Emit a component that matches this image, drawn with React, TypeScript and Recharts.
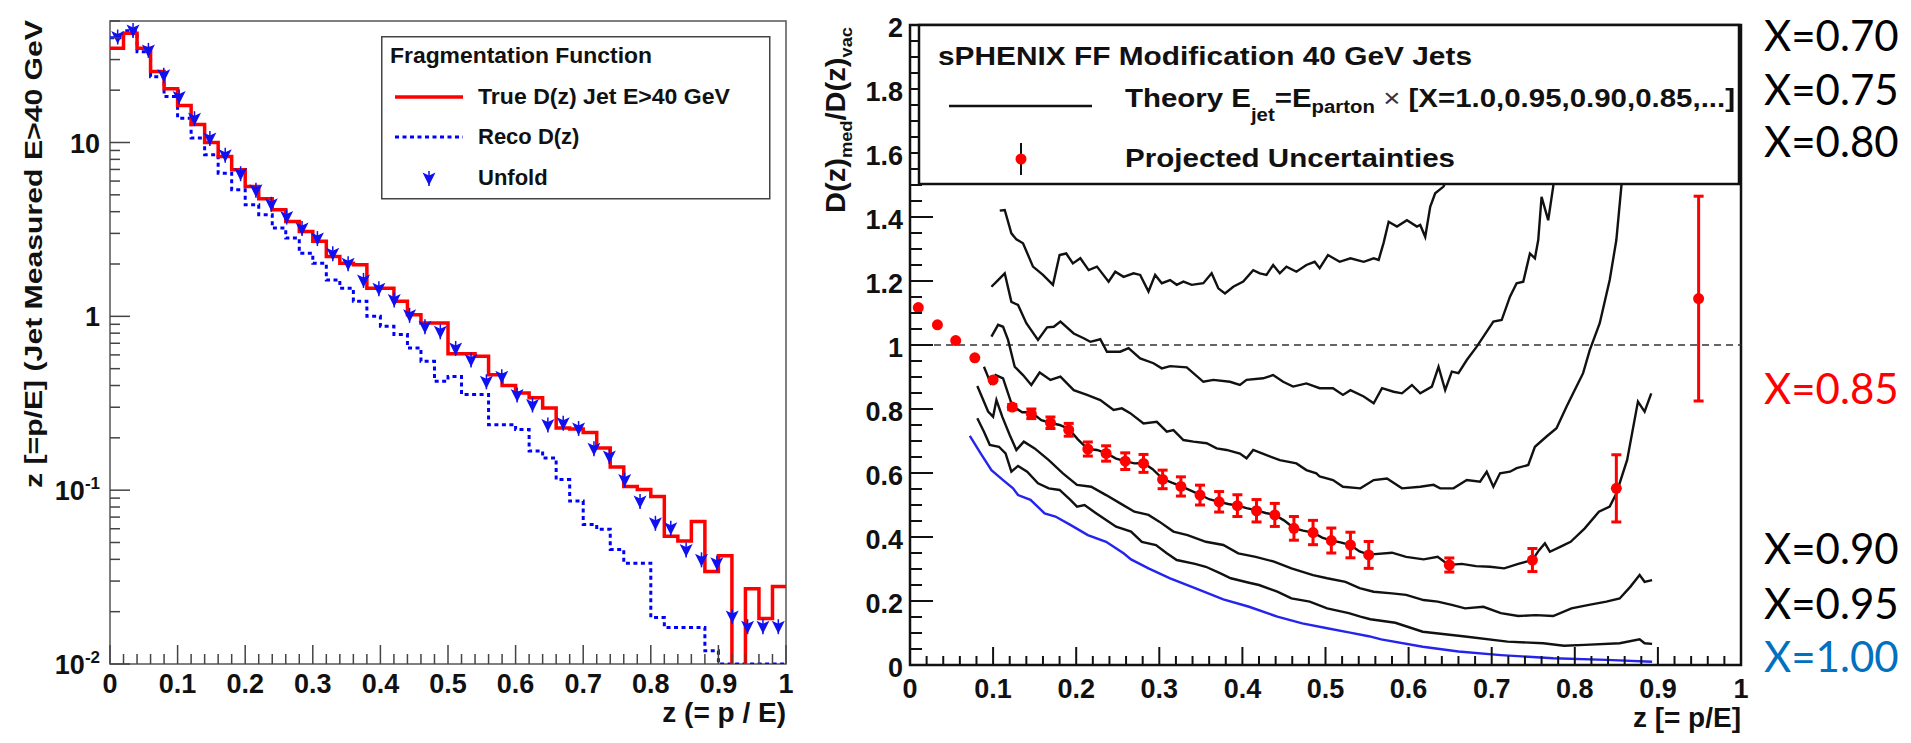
import React from "react";
import {
  ComposedChart,
  Line,
  Scatter,
  XAxis,
  YAxis,
  ReferenceLine,
  ReferenceArea,
  ErrorBar,
} from "recharts";

const FONT = "'Liberation Sans', Arial, Helvetica, sans-serif";
const SLIDE_FONT = "Lato, 'Open Sans', sans-serif";

// ---------- left panel: fragmentation function, 50 bins of 0.02 in z ----------
const trueD = [
  34.8, 42.5, 34.8, 25.6, 20.4, 16.3, 12.7, 10.0, 8.31, 6.97,
  5.59, 4.74, 4.1, 3.51, 3.08, 2.7, 2.21, 2.02, 1.98, 1.45,
  1.45, 1.22, 1.02, 0.915, 0.915, 0.61, 0.61, 0.59, 0.462, 0.4,
  0.362, 0.34, 0.297, 0.228, 0.225, 0.215, 0.175, 0.136, 0.105, 0.101,
  0.092, 0.0544, 0.051, 0.066, 0.034, 0.042, 0.001, 0.0271, 0.0183, 0.0279,
];

const recoD = [
  40, 44, 33.3, 23.9, 18.4, 13.8, 10.6, 8.5, 6.66, 5.35,
  4.38, 3.84, 3.22, 2.82, 2.31, 2.02, 1.62, 1.45, 1.22, 1.0,
  0.876, 0.785, 0.658, 0.551, 0.423, 0.45, 0.355, 0.355, 0.238, 0.238,
  0.223, 0.168, 0.153, 0.115, 0.0865, 0.0635, 0.0595, 0.0456, 0.038, 0.038,
  0.0185, 0.0162, 0.0162, 0.0162, 0.0119, 0.01, 0.01, 0.01, 0.01, 0.01,
];

// unfolded spectrum, 44 bins
const unfoldD = [
  40.7, 44.4, 34.1, 24.5, 18.4, 13.8, 10.6, 8.5, 6.66, 5.35,
  4.44, 3.75, 3.22, 2.82, 2.31, 2.02, 1.62, 1.45, 1.25, 1.02,
  0.876, 0.82, 0.658, 0.564, 0.423, 0.452, 0.355, 0.311, 0.239, 0.244,
  0.228, 0.174, 0.157, 0.115, 0.0865, 0.0649, 0.0607, 0.0456, 0.04, 0.0382,
  0.0189, 0.0165, 0.0165, 0.0165,
];

const zMajor = [0, 0.1, 0.2, 0.3, 0.4, 0.5, 0.6, 0.7, 0.8, 0.9, 1];
const zLabels = ["0", "0.1", "0.2", "0.3", "0.4", "0.5", "0.6", "0.7", "0.8", "0.9", "1"];
const logDecades = [0.01, 0.1, 1, 10];
const logTop = 50;

// ---------- right panel: D(z) medium / vacuum ----------
const projZ = [
  0.01, 0.033, 0.055, 0.078, 0.1, 0.123, 0.146, 0.169, 0.191, 0.214,
  0.236, 0.259, 0.281, 0.304, 0.326, 0.349, 0.372, 0.394, 0.417, 0.439,
  0.462, 0.485, 0.507, 0.53, 0.552, 0.649, 0.749, 0.85, 0.949,
];
const projRatio = [
  1.117, 1.063, 1.014, 0.96, 0.891, 0.806, 0.785, 0.757, 0.735, 0.675,
  0.661, 0.637, 0.63, 0.58, 0.558, 0.531, 0.51, 0.498, 0.482, 0.469,
  0.427, 0.414, 0.389, 0.375, 0.344, 0.3125, 0.328, 0.552, 1.145,
];
const projErr = [
  0, 0, 0, 0, 0, 0.008, 0.015, 0.018, 0.02, 0.022,
  0.024, 0.026, 0.028, 0.029, 0.03, 0.031, 0.032, 0.034, 0.035, 0.036,
  0.037, 0.038, 0.039, 0.04, 0.042, 0.022, 0.036, 0.105, 0.32,
];

const theory100 = [
  [0.072, 0.716], [0.085, 0.661], [0.098, 0.609], [0.112, 0.578], [0.124, 0.552],
  [0.13, 0.531], [0.145, 0.516], [0.162, 0.474], [0.175, 0.464], [0.193, 0.438],
  [0.214, 0.406], [0.236, 0.385], [0.257, 0.349], [0.266, 0.33], [0.287, 0.302],
  [0.313, 0.271], [0.343, 0.24], [0.377, 0.205], [0.408, 0.182], [0.442, 0.151],
  [0.472, 0.13], [0.502, 0.115], [0.528, 0.102], [0.552, 0.09], [0.567, 0.08],
  [0.617, 0.057], [0.66, 0.042], [0.711, 0.031], [0.774, 0.021], [0.838, 0.016],
  [0.893, 0.01],
];

const theory095 = [
  [0.081, 0.771], [0.089, 0.729], [0.096, 0.688], [0.107, 0.682], [0.115, 0.661],
  [0.122, 0.604], [0.13, 0.622], [0.141, 0.604], [0.154, 0.568], [0.167, 0.552],
  [0.18, 0.547], [0.193, 0.516], [0.201, 0.495], [0.21, 0.5], [0.223, 0.476],
  [0.236, 0.453], [0.248, 0.432], [0.266, 0.417], [0.279, 0.385], [0.296, 0.375],
  [0.309, 0.349], [0.321, 0.328], [0.343, 0.316], [0.356, 0.307], [0.373, 0.287],
  [0.386, 0.271], [0.408, 0.257], [0.42, 0.25], [0.442, 0.229], [0.459, 0.208],
  [0.481, 0.198], [0.502, 0.177], [0.528, 0.162], [0.542, 0.151], [0.554, 0.143],
  [0.584, 0.132], [0.617, 0.104], [0.668, 0.089], [0.719, 0.073], [0.762, 0.068],
  [0.787, 0.06], [0.812, 0.063], [0.854, 0.068], [0.878, 0.08], [0.884, 0.068],
  [0.893, 0.066],
];

const theory090 = [
  [0.081, 0.872], [0.094, 0.792], [0.1, 0.776], [0.104, 0.828], [0.111, 0.776],
  [0.12, 0.719], [0.128, 0.672], [0.137, 0.698], [0.15, 0.677], [0.167, 0.64],
  [0.184, 0.599], [0.201, 0.563], [0.218, 0.557], [0.236, 0.531], [0.253, 0.505],
  [0.27, 0.479], [0.287, 0.469], [0.3, 0.448], [0.317, 0.417], [0.334, 0.406],
  [0.356, 0.385], [0.377, 0.375], [0.395, 0.349], [0.416, 0.338], [0.438, 0.323],
  [0.459, 0.302], [0.485, 0.281], [0.502, 0.271], [0.524, 0.26], [0.541, 0.24],
  [0.558, 0.229], [0.58, 0.224], [0.597, 0.219], [0.618, 0.203], [0.635, 0.198],
  [0.652, 0.188], [0.668, 0.177], [0.69, 0.182], [0.711, 0.162], [0.732, 0.153],
  [0.753, 0.156], [0.774, 0.153], [0.796, 0.177], [0.817, 0.188], [0.838, 0.198],
  [0.854, 0.208], [0.867, 0.245], [0.878, 0.281], [0.884, 0.26], [0.893, 0.265],
];

const theory085 = [
  [0.089, 0.932], [0.097, 0.881], [0.103, 0.906], [0.112, 0.896], [0.123, 0.81],
  [0.135, 0.79], [0.146, 0.79], [0.158, 0.765], [0.169, 0.757], [0.18, 0.75],
  [0.191, 0.738], [0.202, 0.705], [0.214, 0.675], [0.225, 0.672], [0.236, 0.662],
  [0.248, 0.645], [0.259, 0.637], [0.27, 0.63], [0.281, 0.631], [0.292, 0.612],
  [0.304, 0.582], [0.315, 0.57], [0.326, 0.559], [0.338, 0.545], [0.349, 0.532],
  [0.36, 0.518], [0.372, 0.51], [0.383, 0.503], [0.394, 0.498], [0.405, 0.49],
  [0.417, 0.483], [0.428, 0.475], [0.439, 0.469], [0.45, 0.452], [0.462, 0.428],
  [0.473, 0.42], [0.485, 0.414], [0.496, 0.398], [0.507, 0.389], [0.518, 0.383],
  [0.53, 0.375], [0.541, 0.355], [0.552, 0.345], [0.58, 0.351], [0.597, 0.338],
  [0.618, 0.33], [0.635, 0.338], [0.643, 0.323], [0.649, 0.313], [0.664, 0.316],
  [0.681, 0.309], [0.698, 0.307], [0.715, 0.302], [0.732, 0.316], [0.749, 0.328],
  [0.757, 0.359], [0.764, 0.38], [0.77, 0.354], [0.783, 0.37], [0.795, 0.385],
  [0.812, 0.427], [0.829, 0.479], [0.842, 0.495], [0.85, 0.536], [0.863, 0.641],
  [0.876, 0.823], [0.884, 0.792], [0.892, 0.849],
];

const theory080 = [
  [0.098, 1.026], [0.106, 1.063], [0.112, 1.057], [0.118, 1.016], [0.126, 0.932],
  [0.136, 0.906], [0.146, 0.875], [0.156, 0.914], [0.169, 0.891], [0.181, 0.901],
  [0.197, 0.859], [0.213, 0.844], [0.229, 0.828], [0.245, 0.797], [0.255, 0.802],
  [0.265, 0.787], [0.281, 0.755], [0.297, 0.76], [0.309, 0.729], [0.317, 0.734],
  [0.329, 0.703], [0.341, 0.698], [0.357, 0.693], [0.369, 0.677], [0.381, 0.672],
  [0.397, 0.661], [0.405, 0.646], [0.413, 0.672], [0.429, 0.656], [0.445, 0.64],
  [0.465, 0.63], [0.477, 0.609], [0.489, 0.599], [0.493, 0.589], [0.509, 0.578],
  [0.521, 0.557], [0.542, 0.552], [0.558, 0.578], [0.574, 0.583], [0.592, 0.552],
  [0.614, 0.557], [0.63, 0.563], [0.638, 0.552], [0.654, 0.552], [0.67, 0.578],
  [0.686, 0.573], [0.694, 0.604], [0.702, 0.557], [0.71, 0.599], [0.722, 0.604],
  [0.73, 0.615], [0.744, 0.625], [0.752, 0.682], [0.766, 0.714], [0.778, 0.74],
  [0.79, 0.807], [0.798, 0.849], [0.81, 0.912], [0.818, 0.984], [0.83, 1.068],
  [0.842, 1.203], [0.85, 1.328], [0.856, 1.495], [0.862, 1.7], [0.868, 1.95],
];

const theory075 = [
  [0.098, 1.182], [0.106, 1.203], [0.114, 1.224], [0.122, 1.135], [0.13, 1.125],
  [0.14, 1.068], [0.154, 1.016], [0.165, 1.055], [0.173, 1.057], [0.181, 1.073],
  [0.197, 1.036], [0.209, 1.021], [0.217, 1.01], [0.229, 1.018], [0.237, 0.979],
  [0.253, 0.979], [0.263, 0.99], [0.277, 0.958], [0.293, 0.943], [0.303, 0.927],
  [0.313, 0.934], [0.333, 0.93], [0.353, 0.885], [0.365, 0.891], [0.385, 0.885],
  [0.397, 0.875], [0.405, 0.891], [0.425, 0.896], [0.437, 0.906], [0.449, 0.885],
  [0.461, 0.87], [0.477, 0.88], [0.493, 0.865], [0.509, 0.865], [0.521, 0.844],
  [0.53, 0.859], [0.546, 0.839], [0.558, 0.818], [0.568, 0.865], [0.582, 0.854],
  [0.592, 0.849], [0.604, 0.875], [0.614, 0.849], [0.628, 0.87], [0.636, 0.932],
  [0.644, 0.859], [0.652, 0.917], [0.66, 0.912], [0.67, 0.953], [0.682, 0.995],
  [0.69, 1.026], [0.702, 1.073], [0.712, 1.078], [0.722, 1.151], [0.73, 1.193],
  [0.738, 1.198], [0.746, 1.286], [0.752, 1.271], [0.756, 1.328], [0.76, 1.463],
  [0.768, 1.39], [0.774, 1.495], [0.782, 1.75], [0.79, 2.0],
];

const theory070 = [
  [0.108, 1.42], [0.114, 1.422], [0.122, 1.349], [0.128, 1.33], [0.136, 1.318],
  [0.148, 1.245], [0.16, 1.219], [0.172, 1.188], [0.18, 1.281], [0.188, 1.286],
  [0.196, 1.255], [0.205, 1.271], [0.215, 1.234], [0.225, 1.245], [0.239, 1.198],
  [0.247, 1.229], [0.257, 1.213], [0.269, 1.224], [0.277, 1.219], [0.287, 1.167],
  [0.295, 1.219], [0.303, 1.193], [0.313, 1.203], [0.321, 1.188], [0.329, 1.198],
  [0.339, 1.188], [0.353, 1.193], [0.363, 1.224], [0.371, 1.177], [0.379, 1.161],
  [0.389, 1.182], [0.401, 1.198], [0.413, 1.234], [0.421, 1.224], [0.429, 1.219],
  [0.437, 1.25], [0.445, 1.224], [0.453, 1.245], [0.465, 1.229], [0.477, 1.25],
  [0.487, 1.26], [0.493, 1.24], [0.503, 1.281], [0.517, 1.26], [0.53, 1.271],
  [0.546, 1.26], [0.558, 1.271], [0.564, 1.266], [0.57, 1.32], [0.576, 1.385],
  [0.586, 1.37], [0.598, 1.39], [0.61, 1.37], [0.614, 1.375], [0.62, 1.338],
  [0.626, 1.432], [0.632, 1.474], [0.642, 1.495], [0.66, 1.6], [0.68, 1.8],
];

const ratioMajor = [0, 0.2, 0.4, 0.6, 0.8, 1, 1.2, 1.4, 1.6, 1.8, 2];
const ratioLabels = ["0", "0.2", "0.4", "0.6", "0.8", "1", "1.2", "1.4", "1.6", "1.8", "2"];

const sideLabels = ["X=0.70", "X=0.75", "X=0.80", "X=0.85", "X=0.90", "X=0.95", "X=1.00"];
const sideColors = ["#000", "#000", "#000", "#ff0000", "#000", "#000", "#0070c0"];
const sideY = [51, 105, 157, 404, 564, 619, 672];

// ---------- helpers ----------
const histPoints = (vals: number[]) => [
  ...vals.map((v, i) => ({ z: i / vals.length, v })),
  { z: 1, v: vals[vals.length - 1] },
];
const pairPoints = (pairs: number[][]) => pairs.map(([z, v]) => ({ z, v }));

// minor ticks: n subdivisions of each major interval
const subdivide = (majors: number[], n: number) => {
  const out: number[] = [];
  for (let i = 0; i < majors.length - 1; i++) {
    for (let k = 0; k < n; k++) out.push(majors[i] + ((majors[i + 1] - majors[i]) * k) / n);
  }
  out.push(majors[majors.length - 1]);
  return out;
};

const logTicks = (() => {
  const out: number[] = [];
  logDecades.forEach((d) => {
    for (let m = 1; m <= 9; m++) if (d * m <= logTop) out.push(d * m);
  });
  return out;
})();

const findMajor = (majors: number[], v: number) =>
  majors.findIndex((m) => Math.abs(m - v) < 1e-6);

const trueData = histPoints(trueD);
const recoData = histPoints(recoD);
const unfoldData = unfoldD.map((v, i) => ({ z: (i + 0.5) / unfoldD.length, v }));
const projData = projZ.map((z, i) => ({ z, v: projRatio[i], err: projErr[i] }));

const theoryCurves = [
  { key: "x070", pts: pairPoints(theory070), color: "#111" },
  { key: "x075", pts: pairPoints(theory075), color: "#111" },
  { key: "x080", pts: pairPoints(theory080), color: "#111" },
  { key: "x085", pts: pairPoints(theory085), color: "#111" },
  { key: "x090", pts: pairPoints(theory090), color: "#111" },
  { key: "x095", pts: pairPoints(theory095), color: "#111" },
  { key: "x100", pts: pairPoints(theory100), color: "#2424ee" },
];

type TickProps = { x?: number; y?: number; payload?: { value: number } };

const labelStyle = {
  fontFamily: FONT,
  fontWeight: 700,
  fontSize: 27,
  fill: "#111",
} as const;

// ---------- tick renderers (ticks point into the frame) ----------
function LogTick({ x = 0, y = 0, payload }: TickProps) {
  const v = payload?.value ?? 1;
  const d = findMajor(logDecades, v);
  const exp = Math.round(Math.log10(v));
  return (
    <g>
      <line x1={x} x2={x + (d >= 0 ? 20 : 10)} y1={y} y2={y} stroke="#444" strokeWidth={1.5} />
      {d >= 0 && (
        <text x={x - 10} y={y + 10} textAnchor="end" {...labelStyle}>
          {exp >= 0 ? (
            String(10 ** exp)
          ) : (
            <>
              10
              <tspan dy={-11} fontSize={17}>
                {String(exp)}
              </tspan>
            </>
          )}
        </text>
      )}
    </g>
  );
}

function LeftZTick({ x = 0, y = 0, payload }: TickProps) {
  const idx = findMajor(zMajor, payload?.value ?? 0);
  return (
    <g>
      <line x1={x} x2={x} y1={y} y2={y - (idx >= 0 ? 19 : 10)} stroke="#444" strokeWidth={1.5} />
      {idx >= 0 && (
        <text x={x} y={y + 29} textAnchor="middle" {...labelStyle}>
          {zLabels[idx]}
        </text>
      )}
    </g>
  );
}

function RatioTick({ x = 0, y = 0, payload }: TickProps) {
  const idx = findMajor(ratioMajor, payload?.value ?? 0);
  return (
    <g>
      <line x1={x} x2={x + (idx >= 0 ? 23 : 12)} y1={y} y2={y} stroke="#111" strokeWidth={2} />
      {idx >= 0 && (
        <text x={x - 7} y={y + 12} textAnchor="end" {...labelStyle}>
          {ratioLabels[idx]}
        </text>
      )}
    </g>
  );
}

function RightZTick({ x = 0, y = 0, payload }: TickProps) {
  const idx = findMajor(zMajor, payload?.value ?? 0);
  return (
    <g>
      <line x1={x} x2={x} y1={y} y2={y - (idx >= 0 ? 18 : 9)} stroke="#111" strokeWidth={2} />
      {idx >= 0 && (
        <text x={x} y={y + 33} textAnchor="middle" {...labelStyle}>
          {zLabels[idx]}
        </text>
      )}
    </g>
  );
}

// unfolded point marker: filled downward arrowhead with a short error line
function UnfoldMarker({ cx = 0, cy = 0 }: { cx?: number; cy?: number }) {
  return (
    <g>
      <line x1={cx} x2={cx} y1={cy - 7} y2={cy + 8} stroke="#1010f0" strokeWidth={1.5} />
      <path
        d={`M${cx - 6.5},${cy - 5.5} L${cx},${cy - 2.5} L${cx + 6.5},${cy - 5.5} L${cx},${cy + 7.5} Z`}
        fill="#1010f0"
      />
    </g>
  );
}

function RedDot({ cx = 0, cy = 0 }: { cx?: number; cy?: number }) {
  return <circle cx={cx} cy={cy} r={5.5} fill="#ff0000" />;
}

function FragmentationPanel() {
  return (
    <ComposedChart width={800} height={743} margin={{ top: 21, right: 14, bottom: 78, left: 109 }}>
      <XAxis
        type="number"
        dataKey="z"
        domain={[0, 1]}
        ticks={subdivide(zMajor, 5)}
        interval={0}
        height={1}
        tickSize={0}
        tickMargin={0}
        axisLine={false}
        tickLine={false}
        tick={<LeftZTick />}
        allowDataOverflow
      />
      <YAxis
        type="number"
        scale="log"
        domain={[0.01, logTop]}
        ticks={logTicks}
        interval={0}
        width={1}
        tickSize={0}
        tickMargin={0}
        axisLine={false}
        tickLine={false}
        tick={<LogTick />}
        allowDataOverflow
      />
      <Line
        data={recoData}
        dataKey="v"
        type="stepAfter"
        stroke="#0000ff"
        strokeWidth={3}
        strokeDasharray="4 3.5"
        dot={false}
        isAnimationActive={false}
      />
      <Line
        data={trueData}
        dataKey="v"
        type="stepAfter"
        stroke="#ff0000"
        strokeWidth={3.5}
        dot={false}
        isAnimationActive={false}
      />
      <Scatter data={unfoldData} dataKey="v" shape={<UnfoldMarker />} isAnimationActive={false} />
      <ReferenceArea x1={0} x2={1} y1={0.01} y2={logTop} fill="none" stroke="#555" strokeWidth={1.5} />
    </ComposedChart>
  );
}

function RatioPanel() {
  return (
    <ComposedChart width={1000} height={743} margin={{ top: 25, right: 59, bottom: 77, left: 109 }}>
      <XAxis
        type="number"
        dataKey="z"
        domain={[0, 1]}
        ticks={subdivide(zMajor, 5)}
        interval={0}
        height={1}
        tickSize={0}
        tickMargin={0}
        axisLine={false}
        tickLine={false}
        tick={<RightZTick />}
        allowDataOverflow
      />
      <YAxis
        type="number"
        domain={[0, 2]}
        ticks={subdivide(ratioMajor, 4)}
        interval={0}
        width={1}
        tickSize={0}
        tickMargin={0}
        axisLine={false}
        tickLine={false}
        tick={<RatioTick />}
        allowDataOverflow
      />
      <ReferenceLine y={1} stroke="#333" strokeWidth={1.5} strokeDasharray="7 5" />
      {theoryCurves.map((c) => (
        <Line
          key={c.key}
          data={c.pts}
          dataKey="v"
          type="linear"
          stroke={c.color}
          strokeWidth={2.4}
          dot={false}
          isAnimationActive={false}
        />
      ))}
      <Scatter data={projData} dataKey="v" shape={<RedDot />} isAnimationActive={false}>
        <ErrorBar dataKey="err" direction="y" width={5} stroke="#ff0000" strokeWidth={3} />
      </Scatter>
      <ReferenceArea x1={0} x2={1} y1={0} y2={2} fill="none" stroke="#111" strokeWidth={2.5} />
    </ComposedChart>
  );
}

// titles, legends and the slide annotations drawn on top of both panels
function Annotations() {
  return (
    <svg
      width={1911}
      height={743}
      style={{ position: "absolute", left: 0, top: 0, pointerEvents: "none" }}
    >
      {/* axis titles */}
      <text
        transform="translate(42,20) rotate(-90)"
        textAnchor="end"
        {...labelStyle}
        fontSize={24}
        textLength={468}
        lengthAdjust="spacingAndGlyphs"
      >
        z [=p/E] (Jet Measured E&gt;40 GeV
      </text>
      <text x={786} y={722} textAnchor="end" {...labelStyle} fontSize={28}>
        z (= p / E)
      </text>
      <text
        transform="translate(845,27) rotate(-90)"
        textAnchor="end"
        {...labelStyle}
        fontSize={27}
        textLength={186}
        lengthAdjust="spacingAndGlyphs"
      >
        D(z)
        <tspan dy={7} fontSize={17}>med</tspan>
        <tspan dy={-7}>/D(z)</tspan>
        <tspan dy={7} fontSize={17}>vac</tspan>
      </text>
      <text x={1741} y={727} textAnchor="end" {...labelStyle} fontSize={28}>
        z [= p/E]
      </text>

      {/* left legend */}
      <g transform="translate(381,36)">
        <rect x={0.75} y={0.75} width={388} height={162} fill="#fff" stroke="#444" strokeWidth={1.5} />
        <text x={9} y={27} {...labelStyle} fontSize={22} textLength={262} lengthAdjust="spacingAndGlyphs">
          Fragmentation Function
        </text>
        <line x1={14} x2={82} y1={61} y2={61} stroke="#ff0000" strokeWidth={3.5} />
        <text x={97} y={68} {...labelStyle} fontSize={22} textLength={252} lengthAdjust="spacingAndGlyphs">
          True D(z) Jet E&gt;40 GeV
        </text>
        <line x1={14} x2={82} y1={101} y2={101} stroke="#0000ff" strokeWidth={3} strokeDasharray="4 3.5" />
        <text x={97} y={108} {...labelStyle} fontSize={22}>
          Reco D(z)
        </text>
        <UnfoldMarker cx={48} cy={142} />
        <text x={97} y={149} {...labelStyle} fontSize={22}>
          Unfold
        </text>
      </g>

      {/* right legend */}
      <g transform="translate(917,23)">
        <rect x={2} y={2} width={820} height={159} fill="#fff" stroke="#111" strokeWidth={2.5} />
        <text x={21} y={42} {...labelStyle} fontSize={26} textLength={534} lengthAdjust="spacingAndGlyphs">
          sPHENIX FF Modification 40 GeV Jets
        </text>
        <line x1={32} x2={175} y1={83} y2={83} stroke="#111" strokeWidth={2.5} />
        <text x={208} y={84} {...labelStyle} fontSize={26} textLength={610} lengthAdjust="spacingAndGlyphs">
          Theory E
          <tspan dy={14} fontSize={18}>jet</tspan>
          <tspan dy={-14}>=E</tspan>
          <tspan dy={6} fontSize={18}>parton</tspan>
          <tspan dy={-6} fontWeight={400} fill="#334">{" \u00d7 "}</tspan>
          <tspan>[X=1.0,0.95,0.90,0.85,...]</tspan>
        </text>
        <line x1={104} x2={104} y1={120} y2={152} stroke="#111" strokeWidth={2} />
        <circle cx={104} cy={136} r={5.5} fill="#ff0000" />
        <text x={208} y={144} {...labelStyle} fontSize={26} textLength={330} lengthAdjust="spacingAndGlyphs">
          Projected Uncertainties
        </text>
      </g>

      {/* X labels beside the ratio panel */}
      {sideLabels.map((s, i) => (
        <text key={s} x={1764} y={sideY[i]} fontFamily={SLIDE_FONT} fontSize={42} fill={sideColors[i]}>
          {s}
        </text>
      ))}
    </svg>
  );
}

export default function App() {
  return (
    <div
      style={{
        position: "absolute",
        left: 0,
        top: 0,
        width: 1911,
        height: 743,
        background: "#fff",
        overflow: "hidden",
      }}
    >
      <div style={{ position: "absolute", left: 0, top: 0 }}>
        <FragmentationPanel />
      </div>
      <div style={{ position: "absolute", left: 800, top: 0 }}>
        <RatioPanel />
      </div>
      <Annotations />
    </div>
  );
}
